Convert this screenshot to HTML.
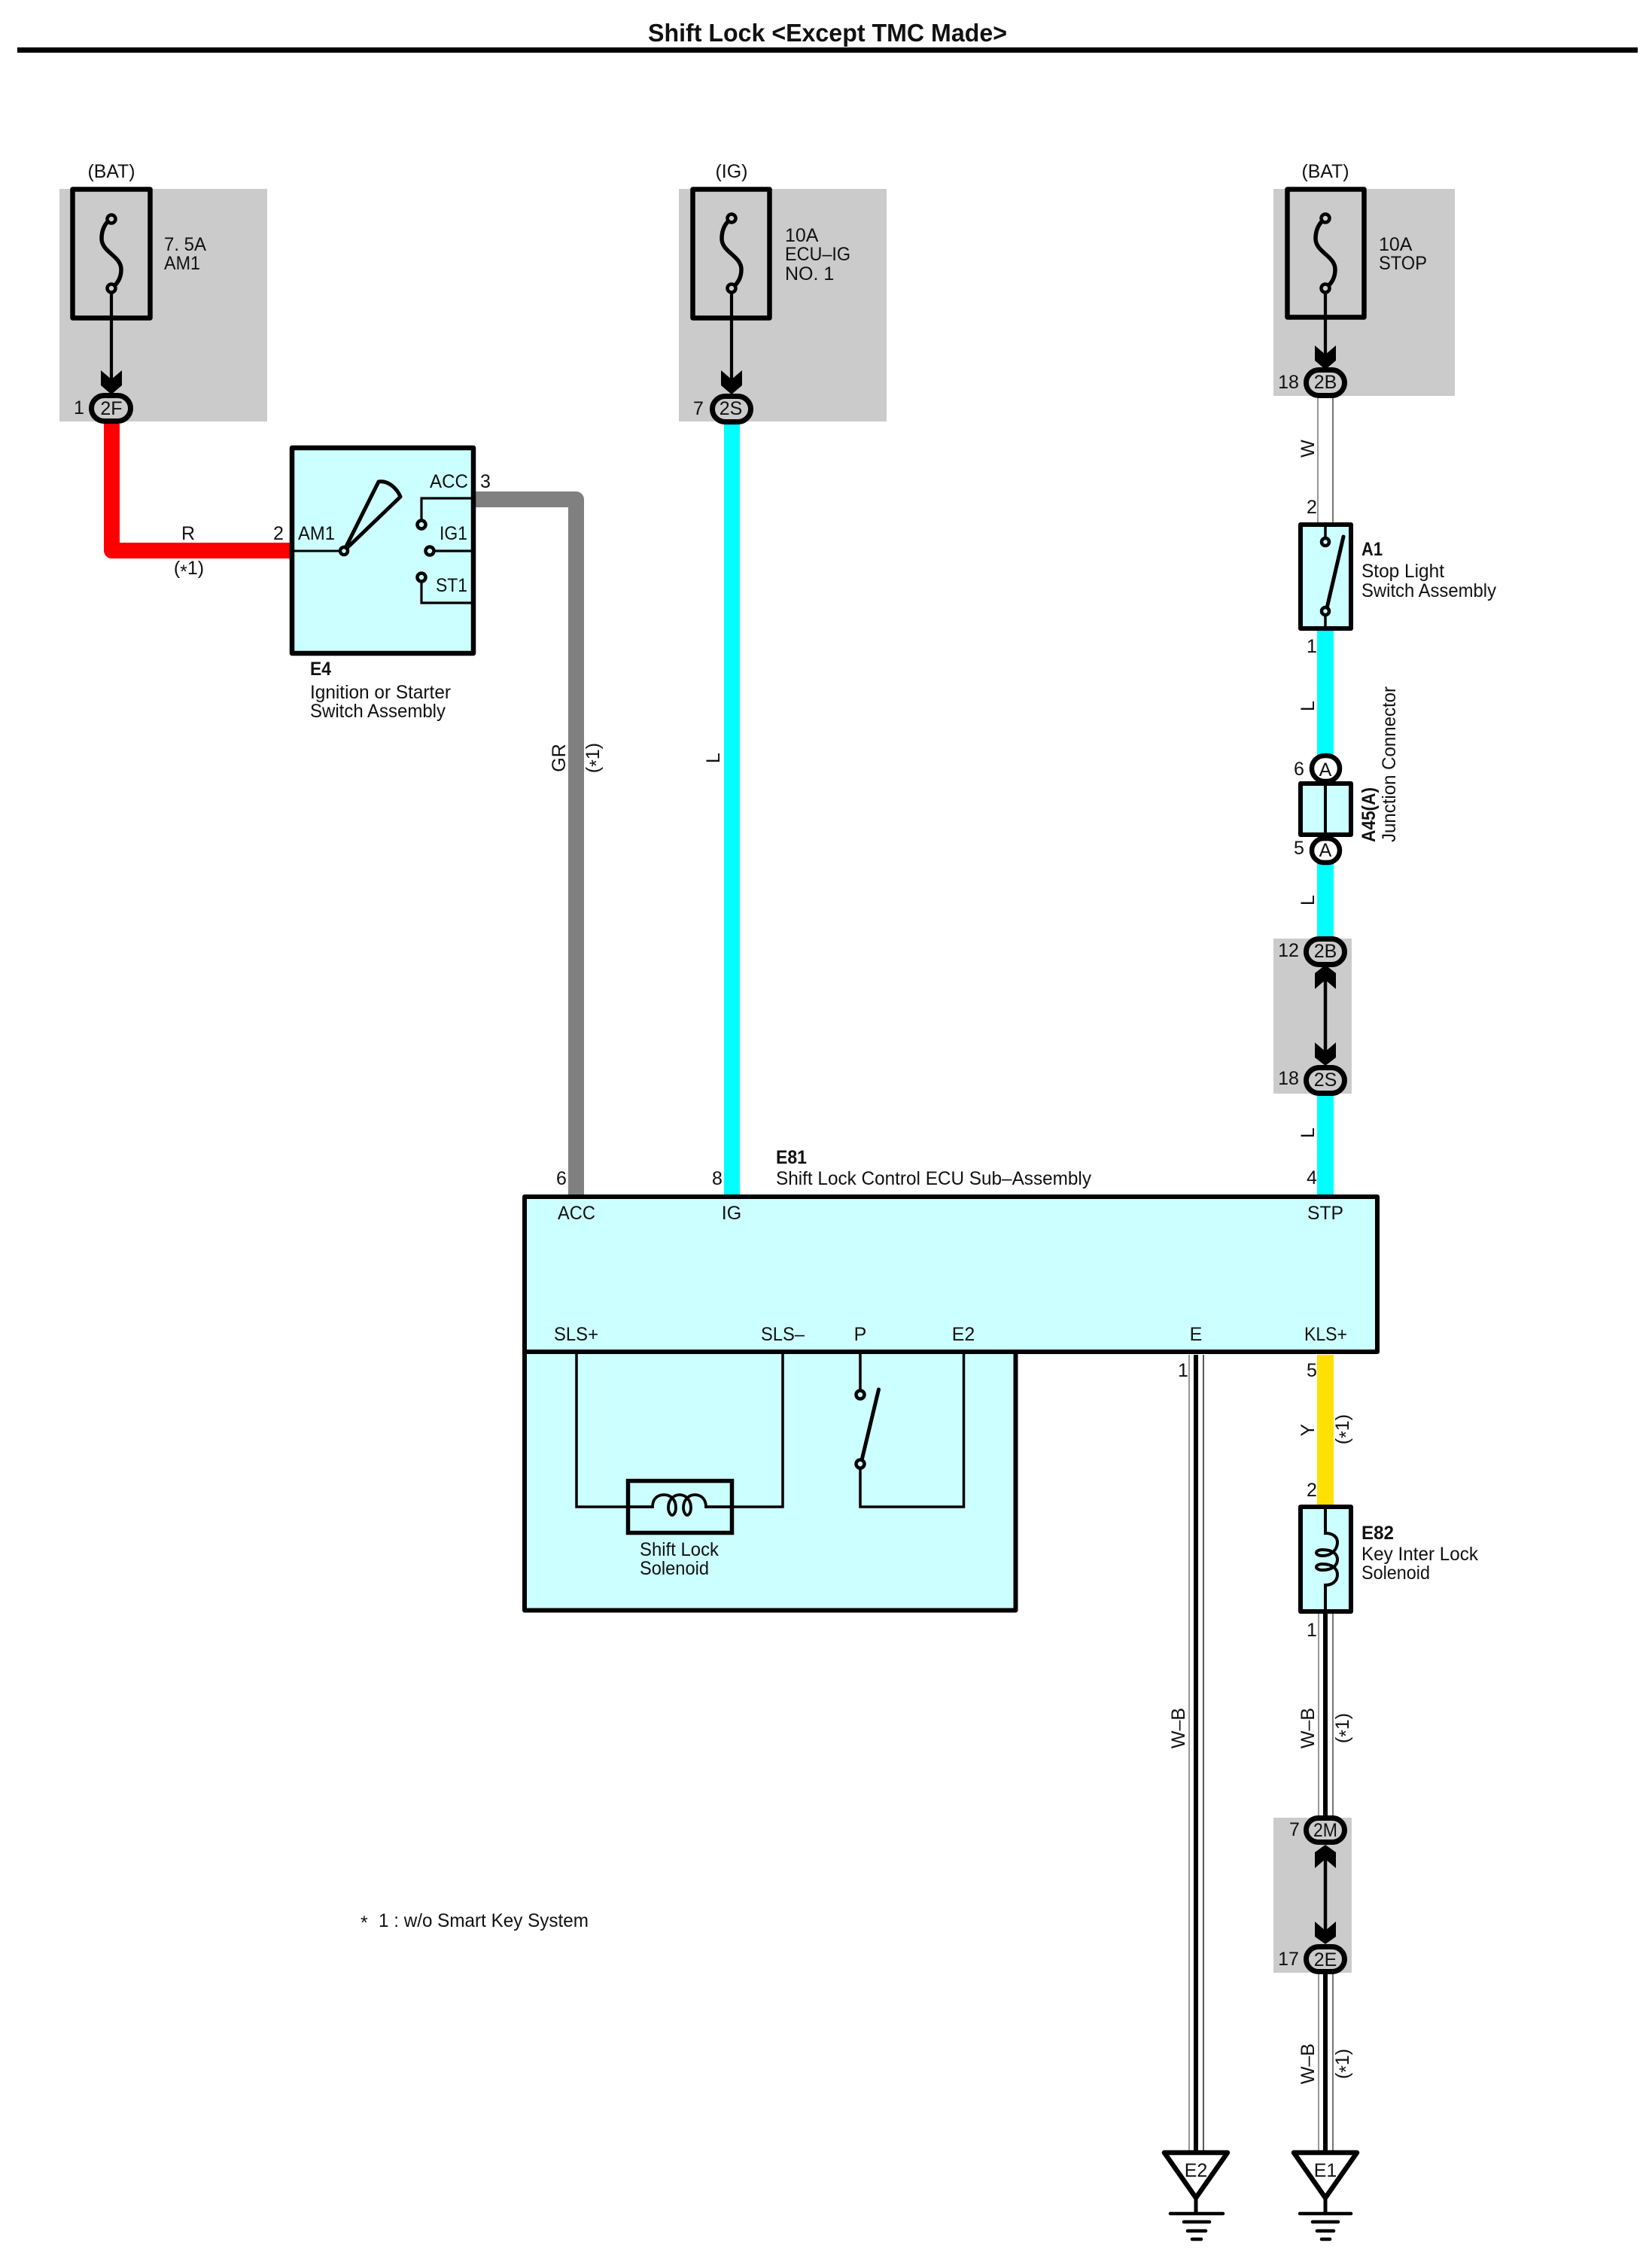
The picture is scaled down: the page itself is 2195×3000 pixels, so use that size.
<!DOCTYPE html>
<html>
<head>
<meta charset="utf-8">
<title>Shift Lock</title>
<style>
html,body{margin:0;padding:0;background:#fff;}
svg{display:block;}
text{font-family:"Liberation Sans",Arial,sans-serif;font-size:25px;fill:#111;}
.b{font-weight:bold;}
.m{text-anchor:middle;}
.t{fill:none;stroke:#000;stroke-linejoin:round;stroke-linecap:round;}
</style>
</head>
<body>
<svg width="2195" height="3000" viewBox="0 0 2195 3000" xmlns="http://www.w3.org/2000/svg">
<rect width="2195" height="3000" fill="#fff"/>

<!-- title -->
<text class="b" x="861" y="55" style="font-size:33px" textLength="477" lengthAdjust="spacingAndGlyphs">Shift Lock &lt;Except TMC Made&gt;</text>
<rect x="23" y="63" width="2153" height="7" fill="#000"/>

<!-- grey zones -->
<rect x="79" y="251" width="276" height="309" fill="#cbcbcb"/>
<rect x="902" y="251" width="276" height="309" fill="#cbcbcb"/>
<rect x="1692" y="251" width="241" height="275" fill="#cbcbcb"/>
<rect x="1692" y="1247" width="104" height="206" fill="#cbcbcb"/>
<rect x="1692" y="2415" width="104" height="206" fill="#cbcbcb"/>

<!-- coloured wires -->
<path d="M148.5 563V731.5H386" fill="none" stroke="#ff0000" stroke-width="21" stroke-linejoin="round"/>
<path d="M632 663.5H765.5V1590" fill="none" stroke="#808080" stroke-width="21" stroke-linejoin="round"/>
<rect x="962" y="563" width="21" height="1027" fill="#00ffff"/>
<rect x="1750" y="838" width="22" height="406" fill="#00ffff"/>
<rect x="1750" y="1453" width="22" height="137" fill="#00ffff"/>
<rect x="1750" y="1800" width="22" height="200" fill="#ffe000"/>

<!-- W wire -->
<rect x="1751" y="529" width="20" height="165" fill="#fff"/>
<path d="M1751 529V694" stroke="#777" stroke-width="1.5"/>
<path d="M1771 529V694" stroke="#777" stroke-width="2"/>

<!-- W-B wires -->
<path d="M1580 1800V2858" stroke="#777" stroke-width="1.5"/>
<path d="M1599 1800V2858" stroke="#222" stroke-width="1.5"/>
<path d="M1589 1800V2858" stroke="#000" stroke-width="6"/>
<path d="M1752 2144V2415M1752 2620V2858" stroke="#777" stroke-width="1.5"/>
<path d="M1771 2144V2415M1771 2620V2858" stroke="#777" stroke-width="2"/>
<path d="M1761 2144V2415M1761 2620V2858" stroke="#000" stroke-width="6"/>

<!-- fuses -->
<g>
<rect class="t" x="96.5" y="251.5" width="103" height="171" stroke-width="6.5"/>
<path class="t" d="M148 291C140 295 135 305 135 317C135 335 161 340 161 358C161 370 155 378 148 383" stroke-width="5.5"/>
<path d="M148 383V510" stroke="#000" stroke-width="4.2"/>
<circle cx="148" cy="291" r="5.5" fill="#cbcbcb" stroke="#000" stroke-width="4.5"/>
<circle cx="148" cy="383" r="5.5" fill="#cbcbcb" stroke="#000" stroke-width="4.5"/>
<polygon points="134,492 148,504 162,492 162,512 148,524 134,512" fill="#000"/>
</g>
<g>
<rect class="t" x="920.5" y="251.5" width="102" height="171" stroke-width="6.5"/>
<path class="t" d="M972 291C964 295 959 305 959 317C959 335 985 340 985 358C985 370 979 378 972 383" stroke-width="5.5"/>
<path d="M972 383V510" stroke="#000" stroke-width="4.2"/>
<circle cx="972" cy="290" r="5.5" fill="#cbcbcb" stroke="#000" stroke-width="4.5"/>
<circle cx="972" cy="383" r="5.5" fill="#cbcbcb" stroke="#000" stroke-width="4.5"/>
<polygon points="958,492 972,504 986,492 986,512 972,524 958,512" fill="#000"/>
</g>
<g>
<rect class="t" x="1710.5" y="251.5" width="102" height="170" stroke-width="6.5"/>
<path class="t" d="M1761 291C1753 295 1748 305 1748 317C1748 335 1774 340 1774 358C1774 370 1768 378 1761 383" stroke-width="5.5"/>
<path d="M1761 383V478" stroke="#000" stroke-width="4.2"/>
<circle cx="1761" cy="290" r="5.5" fill="#cbcbcb" stroke="#000" stroke-width="4.5"/>
<circle cx="1761" cy="383" r="5.5" fill="#cbcbcb" stroke="#000" stroke-width="4.5"/>
<polygon points="1747,459 1761,471 1775,459 1775,479 1761,491 1747,479" fill="#000"/>
</g>

<!-- oval connectors -->
<rect x="121.5" y="525.5" width="52" height="34" rx="17" fill="#cbcbcb" stroke="#000" stroke-width="7"/>
<rect x="946.5" y="526.5" width="51" height="34" rx="17" fill="#cbcbcb" stroke="#000" stroke-width="7"/>
<rect x="1735.5" y="491.5" width="51" height="34" rx="17" fill="#cbcbcb" stroke="#000" stroke-width="7"/>
<rect x="1735.5" y="1247.5" width="51" height="34" rx="17" fill="#cbcbcb" stroke="#000" stroke-width="7"/>
<rect x="1735.5" y="1418.5" width="51" height="34" rx="17" fill="#cbcbcb" stroke="#000" stroke-width="7"/>
<rect x="1735.5" y="2415.5" width="51" height="32" rx="16" fill="#cbcbcb" stroke="#000" stroke-width="7"/>
<rect x="1735.5" y="2586.5" width="51" height="33" rx="16.5" fill="#cbcbcb" stroke="#000" stroke-width="7"/>

<!-- double arrows -->
<path d="M1761 1295V1400" stroke="#000" stroke-width="4.5"/>
<polygon points="1747,1314 1761,1302 1775,1314 1775,1293 1761,1282 1747,1293" fill="#000"/>
<polygon points="1747,1385 1761,1397 1775,1385 1775,1405 1761,1416 1747,1405" fill="#000"/>
<path d="M1761 2463V2568" stroke="#000" stroke-width="4.5"/>
<polygon points="1747,2482 1761,2470 1775,2482 1775,2461 1761,2451 1747,2461" fill="#000"/>
<polygon points="1747,2553 1761,2565 1775,2553 1775,2573 1761,2583 1747,2573" fill="#000"/>

<!-- E4 -->
<rect class="t" x="388" y="595" width="241" height="273" style="fill:#ccffff" stroke-width="6.5"/>
<path d="M388 732H457" stroke="#000" stroke-width="3"/>
<path d="M457 732L503 640C515 638 527 648 532 660Z" fill="#ccffff" stroke="#000" stroke-width="5" stroke-linejoin="round"/>
<circle cx="457" cy="732" r="5" fill="#ccffff" stroke="#000" stroke-width="4.5"/>
<path d="M629 662H560V697" fill="none" stroke="#000" stroke-width="3.2"/>
<circle cx="560" cy="697" r="5.5" fill="#ccffff" stroke="#000" stroke-width="4.5"/>
<path d="M629 732H571" fill="none" stroke="#000" stroke-width="3.2"/>
<circle cx="571" cy="732" r="5.5" fill="#ccffff" stroke="#000" stroke-width="4.5"/>
<path d="M629 801H560V767" fill="none" stroke="#000" stroke-width="3.2"/>
<circle cx="560" cy="767" r="5.5" fill="#ccffff" stroke="#000" stroke-width="4.5"/>

<!-- A1 -->
<rect x="1728" y="697" width="67" height="138" fill="#ccffff" stroke="#000" stroke-width="6" stroke-linejoin="round"/>
<path d="M1761 694V720M1761 812V838" stroke="#000" stroke-width="3.5"/>
<path d="M1763 808L1785 713" stroke="#000" stroke-width="5" stroke-linecap="round"/>
<circle cx="1761" cy="720" r="5" fill="#ccffff" stroke="#000" stroke-width="4.5"/>
<circle cx="1761" cy="812" r="5" fill="#ccffff" stroke="#000" stroke-width="4.5"/>

<!-- A45 -->
<rect x="1728" y="1041" width="67" height="68" fill="#ccffff" stroke="#000" stroke-width="6" stroke-linejoin="round"/>
<path d="M1761 1041V1109" stroke="#000" stroke-width="4"/>
<rect x="1743" y="1004" width="37" height="34" rx="17" fill="#fff" stroke="#000" stroke-width="6.5"/>
<rect x="1743" y="1114" width="37" height="32" rx="16" fill="#fff" stroke="#000" stroke-width="6.5"/>

<!-- E81 ECU -->
<path d="M697 1796V2139.5H1349.5V1796" fill="#ccffff" stroke="#000" stroke-width="6" stroke-linejoin="round"/>
<rect x="697" y="1590" width="1133" height="206" fill="#ccffff" stroke="#000" stroke-width="6" stroke-linejoin="round"/>
<path d="M766 1796V2002H1040V1796" fill="none" stroke="#000" stroke-width="3.5"/>
<rect x="834.5" y="1967.5" width="138" height="69" fill="#ccffff" stroke="#000" stroke-width="5.5"/>
<path d="M832 2002H867C867 1990 875 1986 882 1986C892 1986 898 1993 898 2003C898 2010 895 2013 893 2013C891 2013 888 2009 888 2003C888 1993 895 1986 903 1986C911 1986 918 1993 918 2003C918 2010 915 2013 913 2013C911 2013 908 2009 908 2003C908 1993 915 1986 923 1986C932 1986 938 1992 938 2002H975" fill="none" stroke="#000" stroke-width="3.8"/>
<path d="M1143 1796V1853M1143 1945V2002H1280.5V1796" fill="none" stroke="#000" stroke-width="3.5"/>
<path d="M1145 1940L1167.5 1846" stroke="#000" stroke-width="5" stroke-linecap="round"/>
<circle cx="1143" cy="1853" r="5.5" fill="#ccffff" stroke="#000" stroke-width="4.5"/>
<circle cx="1143" cy="1945" r="5.5" fill="#ccffff" stroke="#000" stroke-width="4.5"/>

<!-- E82 -->
<rect x="1728" y="2002" width="67" height="139" fill="#ccffff" stroke="#000" stroke-width="6" stroke-linejoin="round"/>
<path d="M1761 1999V2037C1771 2037 1777 2042 1777 2049C1777 2058 1770 2067 1757 2067C1752 2067 1749 2065 1749 2063C1749 2061 1752 2059 1757 2059C1770 2059 1777 2064 1777 2072C1777 2080 1770 2086 1757 2086C1752 2086 1749 2084 1749 2082C1749 2080 1752 2078 1757 2078C1770 2078 1777 2084 1777 2092C1777 2100 1771 2106 1761 2106V2144" fill="none" stroke="#000" stroke-width="4"/>

<!-- grounds -->
<g>
<polygon points="1547,2860 1631,2860 1589,2920" fill="#fff" stroke="#000" stroke-width="6.5" stroke-linejoin="round"/>
<path d="M1589 2919V2941" stroke="#000" stroke-width="5"/>
<g stroke="#000" stroke-width="4.5" stroke-linecap="round">
<path d="M1555 2941H1625"/><path d="M1573 2952H1607"/><path d="M1578 2964H1602"/><path d="M1584 2975H1596"/>
</g>
</g>
<g>
<polygon points="1719,2860 1803,2860 1761,2920" fill="#fff" stroke="#000" stroke-width="6.5" stroke-linejoin="round"/>
<path d="M1761 2919V2941" stroke="#000" stroke-width="5"/>
<g stroke="#000" stroke-width="4.5" stroke-linecap="round">
<path d="M1727 2941H1795"/><path d="M1744 2952H1778"/><path d="M1750 2964H1772"/><path d="M1756 2975H1767"/>
</g>
</g>

<!-- labels: fuses -->
<text class="m" x="148" y="236" textLength="63" lengthAdjust="spacingAndGlyphs">(BAT)</text>
<text class="m" x="972" y="236">(IG)</text>
<text class="m" x="1761" y="236" textLength="63" lengthAdjust="spacingAndGlyphs">(BAT)</text>
<text x="218" y="333" textLength="56" lengthAdjust="spacingAndGlyphs">7. 5A</text>
<text x="218" y="358" textLength="48" lengthAdjust="spacingAndGlyphs">AM1</text>
<text x="1043" y="321">10A</text>
<text x="1043" y="346" textLength="87" lengthAdjust="spacingAndGlyphs">ECU–IG</text>
<text x="1043" y="372">NO. 1</text>
<text x="1832" y="333">10A</text>
<text x="1832" y="358" textLength="64" lengthAdjust="spacingAndGlyphs">STOP</text>

<!-- connectors text -->
<text class="m" x="148" y="551">2F</text>
<text class="m" x="971" y="551">2S</text>
<text class="m" x="1761" y="516">2B</text>
<text class="m" x="1761" y="1272">2B</text>
<text class="m" x="1761" y="1443">2S</text>
<text class="m" x="1761" y="2440" textLength="32" lengthAdjust="spacingAndGlyphs">2M</text>
<text class="m" x="1761" y="2612">2E</text>
<text class="m" x="1761" y="1031">A</text>
<text class="m" x="1761" y="1138">A</text>

<text class="m" x="105" y="550">1</text>
<text class="m" x="928" y="551">7</text>
<text class="m" x="1712" y="516">18</text>
<text class="m" x="1712" y="1271">12</text>
<text class="m" x="1712" y="1441">18</text>
<text class="m" x="1720" y="2439">7</text>
<text class="m" x="1712" y="2611">17</text>
<text class="m" x="1726" y="1030">6</text>
<text class="m" x="1726" y="1135">5</text>

<!-- E4 labels -->
<text class="m" x="250" y="717">R</text>
<text class="m" x="251" y="763">(<tspan dy="5">*</tspan><tspan dy="-5">1)</tspan></text>
<text class="m" x="370" y="717">2</text>
<text x="396" y="717" textLength="49" lengthAdjust="spacingAndGlyphs">AM1</text>
<text x="571" y="648" textLength="51" lengthAdjust="spacingAndGlyphs">ACC</text>
<text class="m" x="645" y="648">3</text>
<text x="584" y="717" textLength="37" lengthAdjust="spacingAndGlyphs">IG1</text>
<text x="579" y="786" textLength="42" lengthAdjust="spacingAndGlyphs">ST1</text>
<text class="b" x="412" y="897" textLength="28" lengthAdjust="spacingAndGlyphs">E4</text>
<text x="412" y="928" textLength="187" lengthAdjust="spacingAndGlyphs">Ignition or Starter</text>
<text x="412" y="953" textLength="180" lengthAdjust="spacingAndGlyphs">Switch Assembly</text>

<!-- A1 labels -->
<text class="m" x="1743" y="682">2</text>
<text class="m" x="1743" y="867">1</text>
<text class="b" x="1809" y="738" textLength="28" lengthAdjust="spacingAndGlyphs">A1</text>
<text x="1809" y="767" textLength="110" lengthAdjust="spacingAndGlyphs">Stop Light</text>
<text x="1809" y="793" textLength="179" lengthAdjust="spacingAndGlyphs">Switch Assembly</text>

<!-- rotated wire labels -->
<text class="m" transform="rotate(-90 1746 596)" x="1746" y="596">W</text>
<text class="m" transform="rotate(-90 1746 938)" x="1746" y="938">L</text>
<text class="m" transform="rotate(-90 1746 1196)" x="1746" y="1196">L</text>
<text class="m" transform="rotate(-90 1746 1505)" x="1746" y="1505">L</text>
<text class="m" transform="rotate(-90 956 1007)" x="956" y="1007">L</text>
<text class="m" transform="rotate(-90 751 1007)" x="751" y="1007">GR</text>
<text class="m" transform="rotate(-90 796 1007)" x="796" y="1007">(<tspan dy="5">*</tspan><tspan dy="-5">1)</tspan></text>
<text class="m" transform="rotate(-90 1746 1900)" x="1746" y="1900">Y</text>
<text class="m" transform="rotate(-90 1792 1899)" x="1792" y="1899">(<tspan dy="5">*</tspan><tspan dy="-5">1)</tspan></text>
<text class="m" transform="rotate(-90 1574 2296)" x="1574" y="2296">W–B</text>
<text class="m" transform="rotate(-90 1746 2296)" x="1746" y="2296">W–B</text>
<text class="m" transform="rotate(-90 1792 2296)" x="1792" y="2296">(<tspan dy="5">*</tspan><tspan dy="-5">1)</tspan></text>
<text class="m" transform="rotate(-90 1746 2742)" x="1746" y="2742">W–B</text>
<text class="m" transform="rotate(-90 1792 2742)" x="1792" y="2742">(<tspan dy="5">*</tspan><tspan dy="-5">1)</tspan></text>

<!-- A45 labels -->
<text class="b" transform="rotate(-90 1827 1119)" x="1827" y="1119" textLength="73" lengthAdjust="spacingAndGlyphs">A45(A)</text>
<text transform="rotate(-90 1854 1119)" x="1854" y="1119" textLength="207" lengthAdjust="spacingAndGlyphs">Junction Connector</text>

<!-- ECU labels -->
<text class="m" x="746" y="1574">6</text>
<text class="m" x="953" y="1574">8</text>
<text class="m" x="1743" y="1573">4</text>
<text class="b" x="1031" y="1546" textLength="41" lengthAdjust="spacingAndGlyphs">E81</text>
<text x="1031" y="1574" textLength="419" lengthAdjust="spacingAndGlyphs">Shift Lock Control ECU Sub–Assembly</text>
<text class="m" x="766" y="1620" textLength="50" lengthAdjust="spacingAndGlyphs">ACC</text>
<text class="m" x="972" y="1620">IG</text>
<text class="m" x="1761" y="1620" textLength="48" lengthAdjust="spacingAndGlyphs">STP</text>
<text x="736" y="1781" textLength="59" lengthAdjust="spacingAndGlyphs">SLS+</text>
<text x="1011" y="1781" textLength="58" lengthAdjust="spacingAndGlyphs">SLS–</text>
<text class="m" x="1143" y="1781">P</text>
<text class="m" x="1280" y="1781">E2</text>
<text class="m" x="1589" y="1781">E</text>
<text x="1733" y="1781" textLength="57" lengthAdjust="spacingAndGlyphs">KLS+</text>
<text x="850" y="2067" textLength="105" lengthAdjust="spacingAndGlyphs">Shift Lock</text>
<text x="850" y="2092" textLength="92" lengthAdjust="spacingAndGlyphs">Solenoid</text>

<!-- lower labels -->
<text class="m" x="1572" y="1829">1</text>
<text class="m" x="1743" y="1829">5</text>
<text class="m" x="1743" y="1988">2</text>
<text class="m" x="1743" y="2174">1</text>
<text class="b" x="1809" y="2045" textLength="43" lengthAdjust="spacingAndGlyphs">E82</text>
<text x="1809" y="2073" textLength="155" lengthAdjust="spacingAndGlyphs">Key Inter Lock</text>
<text x="1809" y="2098" textLength="91" lengthAdjust="spacingAndGlyphs">Solenoid</text>
<text class="m" x="1589" y="2892">E2</text>
<text class="m" x="1761" y="2892">E1</text>

<!-- note -->
<text x="479" y="2563">*</text>
<text x="503" y="2560" textLength="279" lengthAdjust="spacingAndGlyphs">1 : w/o Smart Key System</text>
</svg>
</body>
</html>
